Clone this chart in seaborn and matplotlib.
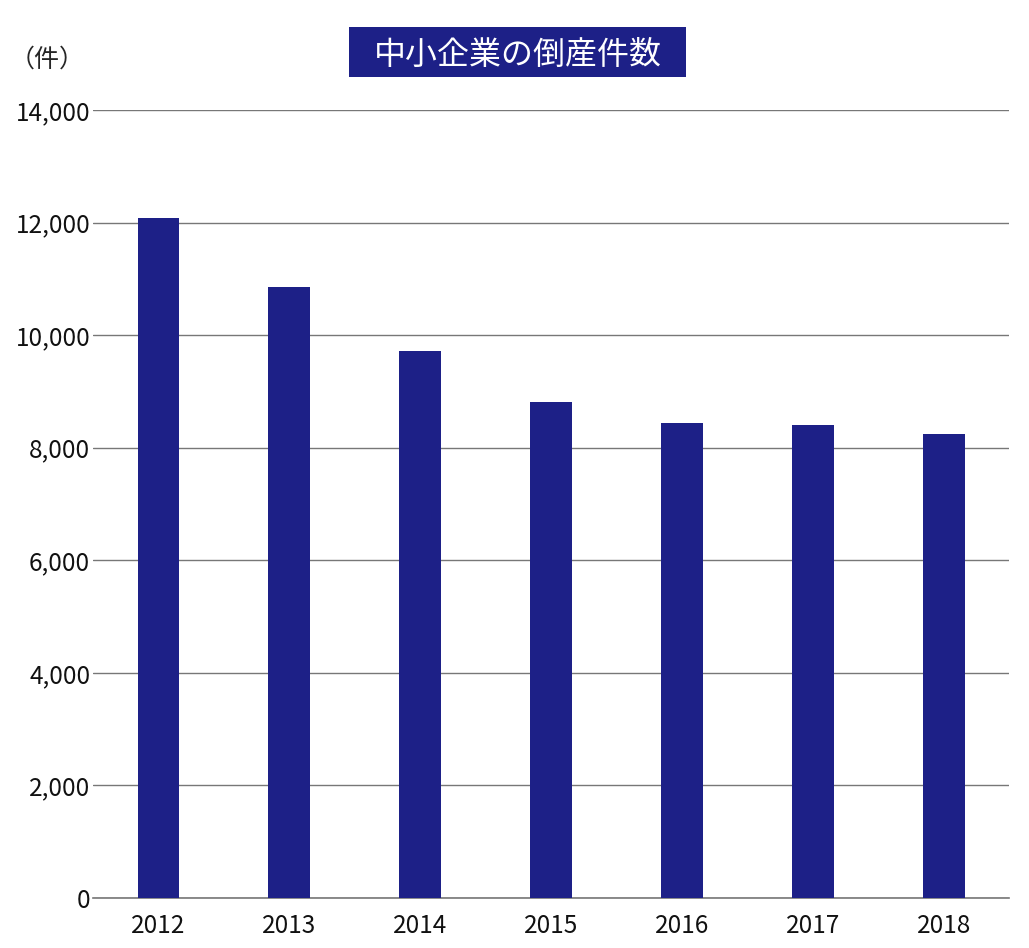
import matplotlib
matplotlib.use("Agg")
import matplotlib.pyplot as plt
from matplotlib.patches import Rectangle
import seaborn as sns
import pandas as pd

years = ["2012", "2013", "2014", "2015", "2016", "2017", "2018"]
counts = [12077, 10848, 9723, 8806, 8439, 8402, 8235]
yticks = [0, 2000, 4000, 6000, 8000, 10000, 12000, 14000]
ytick_labels = ["0", "2,000", "4,000", "6,000", "8,000", "10,000", "12,000", "14,000"]

sns.set_style("white")
plt.rcParams['font.family'] = ['Noto Sans CJK JP', 'DejaVu Sans']

df = pd.DataFrame({"year": years, "count": counts})

fig = plt.figure(figsize=(10.29, 9.48), dpi=100)
ax = fig.add_axes([0.0904, 0.0527, 0.8902, 0.8313])

sns.barplot(data=df, x="year", y="count", color="#1d2087", saturation=1,
            width=0.32, linewidth=0, ax=ax, zorder=3)

ax.set_ylim(0, 14000)
ax.set_xlim(-0.5, 6.5)
ax.set_yticks(yticks)
ax.set_yticklabels(ytick_labels)
ax.yaxis.grid(True, color="#777777", linewidth=1, zorder=0)
ax.set_axisbelow(True)
for s in ["top", "right", "left"]:
    ax.spines[s].set_visible(False)
ax.spines["bottom"].set_color("#777777")
ax.spines["bottom"].set_linewidth(1.2)
ax.tick_params(axis="both", length=0, labelsize=17.5, colors="#111111")
ax.tick_params(axis="x", pad=11)
ax.tick_params(axis="y", pad=2)
ax.set_xlabel("")
ax.set_ylabel("")

fig.text(0.046, 0.937, "（件）", fontsize=18, ha="center", va="center")

# title box
fig.patches.append(Rectangle((0.3392, 0.9188), 0.3275, 0.0527,
                             transform=fig.transFigure, facecolor="#1d2087",
                             edgecolor="none"))
fig.text(0.503, 0.9425, "中小企業の倒産件数", fontsize=23, color="white",
         ha="center", va="center")

fig.savefig("out.png", dpi=100)
